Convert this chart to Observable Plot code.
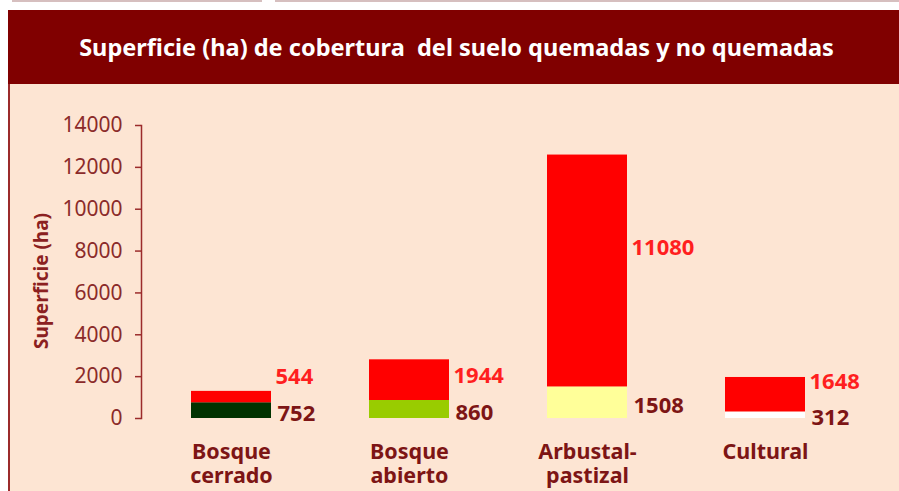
<!DOCTYPE html>
<html><head><meta charset="utf-8">
<script src="https://cdn.jsdelivr.net/npm/d3@7"></script>
<script src="https://cdn.jsdelivr.net/npm/@observablehq/plot@0.6"></script>
<style>
html,body{margin:0;padding:0;background:#fff;}
#page{position:relative;width:899px;height:491px;overflow:hidden;background:#fff;font-family:"Noto Sans",sans-serif;}
.topline{position:absolute;top:0;height:2px;background:#d6bfbf;}
#box{position:absolute;left:8px;top:10px;width:891px;height:481px;border-left:2px solid #9b2b2b;box-sizing:border-box;background:#fde5d3;}
#header{position:absolute;left:8px;top:10px;width:891px;height:74px;background:#800000;color:#fff;font-weight:bold;font-size:22px;display:flex;align-items:center;justify-content:center;white-space:pre;padding-left:6px;box-sizing:border-box;}
#chart{position:absolute;left:0;top:84px;}
</style></head>
<body><div id="page">
<div class="topline" style="left:12px;width:250px"></div>
<div class="topline" style="left:275px;width:624px"></div>
<div id="box"></div>
<div id="header"><span id="title"></span></div>
<div id="chart"></div>
</div>
<script>
const title = "Superficie (ha) de cobertura  del suelo quemadas y no quemadas";
const categories = ["Bosque cerrado", "Bosque abierto", "Arbustal-pastizal", "Cultural"];
const categoryLines = ["Bosque\ncerrado", "Bosque\nabierto", "Arbustal-\npastizal", "Cultural"];
const quemadas = [544, 1944, 11080, 1648];
const noQuemadas = [752, 860, 1508, 312];
const noQuemadasColors = ["#003300", "#99cc00", "#ffff99", "#ffffff"];
const quemadasColor = "#ff0000";
const yTicks = [0, 2000, 4000, 6000, 8000, 10000, 12000, 14000];
const yLabel = "Superficie (ha)";

const axisColor = "#9b2b2b";
const darkText = "#7d1515";
const redText = "#ff1f1f";

document.getElementById("title").textContent = title;
(function(){
  const t = document.getElementById("title");
  const w = t.getBoundingClientRect().width;
  const target = 755;
  if (w > 0) t.style.fontSize = (22 * target / w).toFixed(2) + "px";
})();

const rows = [];
categories.forEach((c, i) => {
  rows.push({cat: c, part: "no", value: noQuemadas[i], color: noQuemadasColors[i]});
  rows.push({cat: c, part: "si", value: quemadas[i], color: quemadasColor});
});
const lab = categories.map((c, i) => ({cat: c, nq: noQuemadas[i], q: quemadas[i], line: categoryLines[i]}));

const chart = Plot.plot({
  width: 899,
  height: 407,
  marginLeft: 141,
  marginRight: 44,
  marginTop: 41,
  marginBottom: 73,
  style: {background: "transparent", fontFamily: "Noto Sans, sans-serif"},
  x: {domain: categories, paddingInner: 0.552, paddingOuter: 0.274, axis: null},
  y: {domain: [0, 14000], axis: null},
  color: {type: "identity"},
  marks: [
    Plot.barY(rows, Plot.stackY({x: "cat", y: "value", fill: "color", order: null})),
    Plot.frame({anchor: "left", stroke: axisColor, strokeWidth: 1.5}),
    Plot.axisY({ticks: yTicks, tickSize: 6, tickPadding: 13, stroke: axisColor, strokeWidth: 1.5, fill: "#8b2a2a", fontSize: 21, tickFormat: d => String(d), label: null}),
    Plot.text(["x"], {frameAnchor: "left", text: () => yLabel, rotate: -90, dx: -100, dy: 9, fill: "#8b2020", fontWeight: "bold", fontSize: 19, textAnchor: "middle"}),
    Plot.text(lab, {x: "cat", frameAnchor: "bottom", text: "line", lineAnchor: "top", dy: 23, lineHeight: 1.14, fill: darkText, fontWeight: "bold", fontSize: 21.5, textAnchor: "middle"}),
    Plot.text(lab, {x: "cat", y: d => d.nq / 2, text: d => String(d.nq), dx: 46, dy: 3, textAnchor: "start", fill: darkText, fontWeight: "bold", fontSize: 22}),
    Plot.text(lab, {x: "cat", y: d => Math.max(d.nq + d.q * 0.6, d.nq / 2 + 1600), text: d => String(d.q), dx: 44, textAnchor: "start", fill: redText, fontWeight: "bold", fontSize: 22})
  ]
});
document.getElementById("chart").appendChild(chart);
</script>
</body></html>
